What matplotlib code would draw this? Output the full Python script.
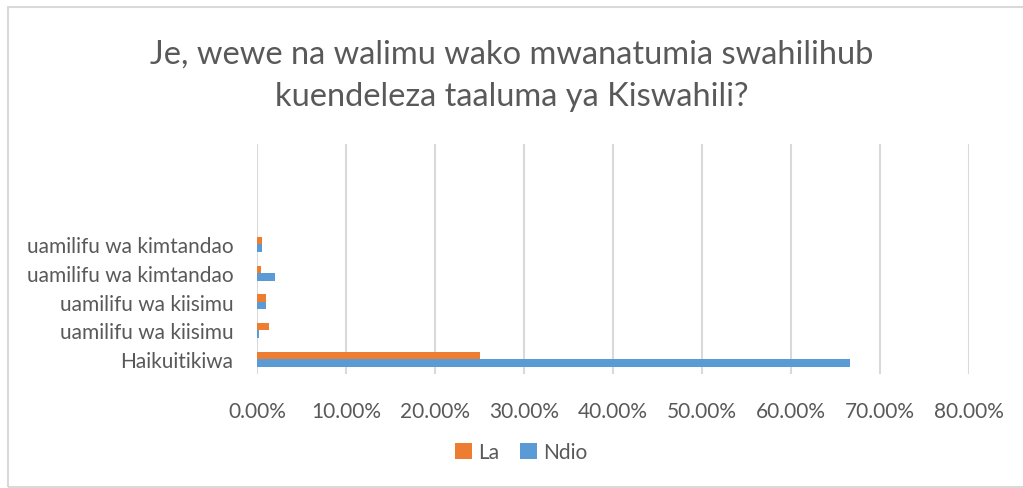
import numpy as np
import matplotlib.pyplot as plt
from matplotlib.patches import Rectangle

categories = ["Haikuitikiwa", "uamilifu wa kiisimu", "uamilifu wa kiisimu",
              "uamilifu wa kimtandao", "uamilifu wa kimtandao"]
la = [0.25, 0.0135, 0.0105, 0.005, 0.006]
ndio = [0.666, 0.002, 0.0105, 0.020, 0.006]
xticks = np.arange(0, 0.81, 0.1)

orange = "#ED7D31"
blue = "#5B9BD5"
grey_txt = "#595959"
grid_c = "#D9D9D9"

plt.rcParams['font.family'] = ['Lato', 'DejaVu Sans']

fig = plt.figure(figsize=(10.23, 4.89), dpi=100)
W, H = 1023, 489
ax = fig.add_axes([257 / W, 1 - 374.5 / H, (969 - 257) / W, (374.5 - 145) / H])

y = np.arange(len(categories))
h = 0.26
ax.barh(y + h / 2, la, height=h, color=orange, label="La", zorder=3)
ax.barh(y - h / 2, ndio, height=h, color=blue, label="Ndio", zorder=3)

ax.set_xlim(0, 0.8)
ax.set_ylim(-0.5, 7.5)
ax.set_xticks(xticks)
ax.set_xticklabels(["{:.2f}%".format(v * 100) for v in xticks])
ax.set_yticks(y)
ax.set_yticklabels(categories)
ax.tick_params(axis='x', length=0, pad=20, labelsize=15, labelcolor=grey_txt)
ax.tick_params(axis='y', length=0, pad=17, labelsize=15, labelcolor=grey_txt)
ax.grid(axis='x', color=grid_c, linewidth=1.5, zorder=0)
for s in ax.spines.values():
    s.set_visible(False)

fig.text(0.5, 1 - 76 / H, "Je, wewe na walimu wako mwanatumia swahilihub\nkuendeleza taaluma ya Kiswahili?",
         ha='center', va='center', fontsize=23.5, color=grey_txt, linespacing=1.5)

ax.legend(loc='center', bbox_to_anchor=(521 / W, 1 - 453 / H), bbox_transform=fig.transFigure,
          frameon=False, ncol=2, fontsize=15, labelcolor=grey_txt,
          handlelength=0.8, handleheight=0.8, handletextpad=0.3, columnspacing=1.0)

fig.patches.append(Rectangle((8 / W, 1 / H), 1.1, 480 / H,
                             transform=fig.transFigure, fill=False,
                             edgecolor=grid_c, linewidth=1.5))

fig.savefig("out.png", dpi=100)
